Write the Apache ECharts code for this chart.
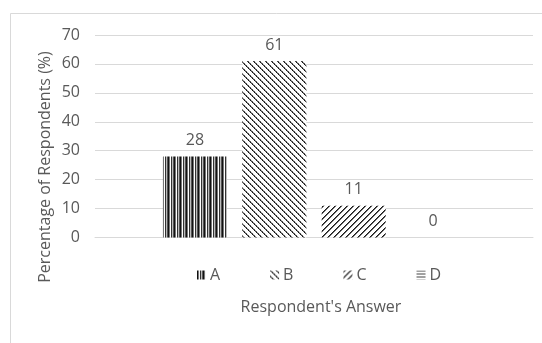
<!DOCTYPE html>
<html>
<head>
<meta charset="utf-8">
<script src="https://cdn.jsdelivr.net/npm/echarts@6/dist/echarts.min.js"></script>
<style>
  html, body { margin: 0; padding: 0; background: #ffffff; }
  #chart { width: 542px; height: 343px; }
</style>
</head>
<body>
<div id="chart"></div>
<script>
// Survey result: share of respondents choosing each answer
const answers = ['A', 'B', 'C', 'D'];
const percentages = [28, 61, 11, 0];
const yTicks = { min: 0, max: 70, step: 10 };

const TEXT = '#595959';
const GRID = '#d9d9d9';
const FONT = '"Open Sans", "Noto Sans", sans-serif';

// Build a small repeating pattern tile; paint(x, y) returns a colour or null
function tile(size, paint) {
  const c = document.createElement('canvas');
  c.width = size; c.height = size;
  const ctx = c.getContext('2d');
  ctx.fillStyle = '#ffffff';
  ctx.fillRect(0, 0, size, size);
  for (let y = 0; y < size; y++) {
    for (let x = 0; x < size; x++) {
      const col = paint(x, y);
      if (col) { ctx.fillStyle = col; ctx.fillRect(x, y, 1, 1); }
    }
  }
  return { image: c, repeat: 'repeat' };
}

const fills = {
  // vertical stripes
  A: tile(6, (x) => ['#111111', '#777777', '#ffffff', '#333333', '#bbbbbb', '#555555'][x]),
  // dotted downward diagonals
  B: tile(6, (x, y) => {
    const d = ((x - y) % 6 + 6) % 6;
    if (d === 0) return (x % 2) ? '#444444' : '#111111';
    if (d === 1) return (x % 2) ? '#999999' : '#555555';
    return null;
  }),
  // upward diagonals
  C: tile(6, (x, y) => {
    const d = (x + y) % 6;
    if (d === 0) return '#1a1a1a';
    if (d === 1) return '#666666';
    return null;
  }),
  // horizontal lines
  D: tile(3, (x, y) => (y === 0 ? '#444444' : null))
};

const series = answers.map((name, i) => ({
  name: name,
  type: 'bar',
  data: [percentages[i]],
  barWidth: 64,
  barGap: '24%',
  itemStyle: { color: fills[name] },
  label: {
    show: true,
    position: 'top',
    distance: 8,
    color: TEXT,
    fontSize: 16,
    fontFamily: FONT
  }
}));

const chart = echarts.init(document.getElementById('chart'), null, { renderer: 'canvas' });
chart.setOption({
  animation: false,
  backgroundColor: '#ffffff',
  textStyle: { fontFamily: FONT },
  grid: { left: 95, right: 9, top: 35, bottom: 105.5, containLabel: false },
  xAxis: {
    type: 'category',
    data: [''],
    axisLine: { show: true, lineStyle: { color: GRID, width: 1 } },
    axisTick: { show: false },
    axisLabel: { show: false },
    splitLine: { show: false }
  },
  yAxis: {
    type: 'value',
    min: yTicks.min,
    max: yTicks.max,
    interval: yTicks.step,
    axisLine: { show: false },
    axisTick: { show: false },
    axisLabel: { color: TEXT, fontSize: 16, fontFamily: FONT, margin: 15 },
    splitLine: { lineStyle: { color: GRID, width: 1 } }
  },
  legend: {
    data: answers,
    left: 192,
    top: 262,
    icon: 'rect',
    itemWidth: 9,
    itemHeight: 9,
    itemGap: 50,
    textStyle: { color: TEXT, fontSize: 16, fontFamily: FONT, padding: [0, 0, 0, -1] }
  },
  graphic: [
    {
      type: 'rect',
      silent: true,
      shape: { x: 10.5, y: 13.5, width: 700, height: 500 },
      style: { fill: null, stroke: GRID, lineWidth: 1 }
    },
    {
      type: 'text',
      silent: true,
      x: 321, y: 307,
      style: {
        text: "Respondent's Answer",
        fill: TEXT, fontSize: 16, fontFamily: FONT,
        align: 'center', verticalAlign: 'middle'
      }
    },
    {
      type: 'text',
      silent: true,
      x: 45, y: 167,
      rotation: Math.PI / 2,
      style: {
        text: 'Percentage of Respondents (%)',
        fill: TEXT, fontSize: 16, fontFamily: FONT,
        align: 'center', verticalAlign: 'middle'
      }
    }
  ],
  series: series
});
</script>
</body>
</html>
